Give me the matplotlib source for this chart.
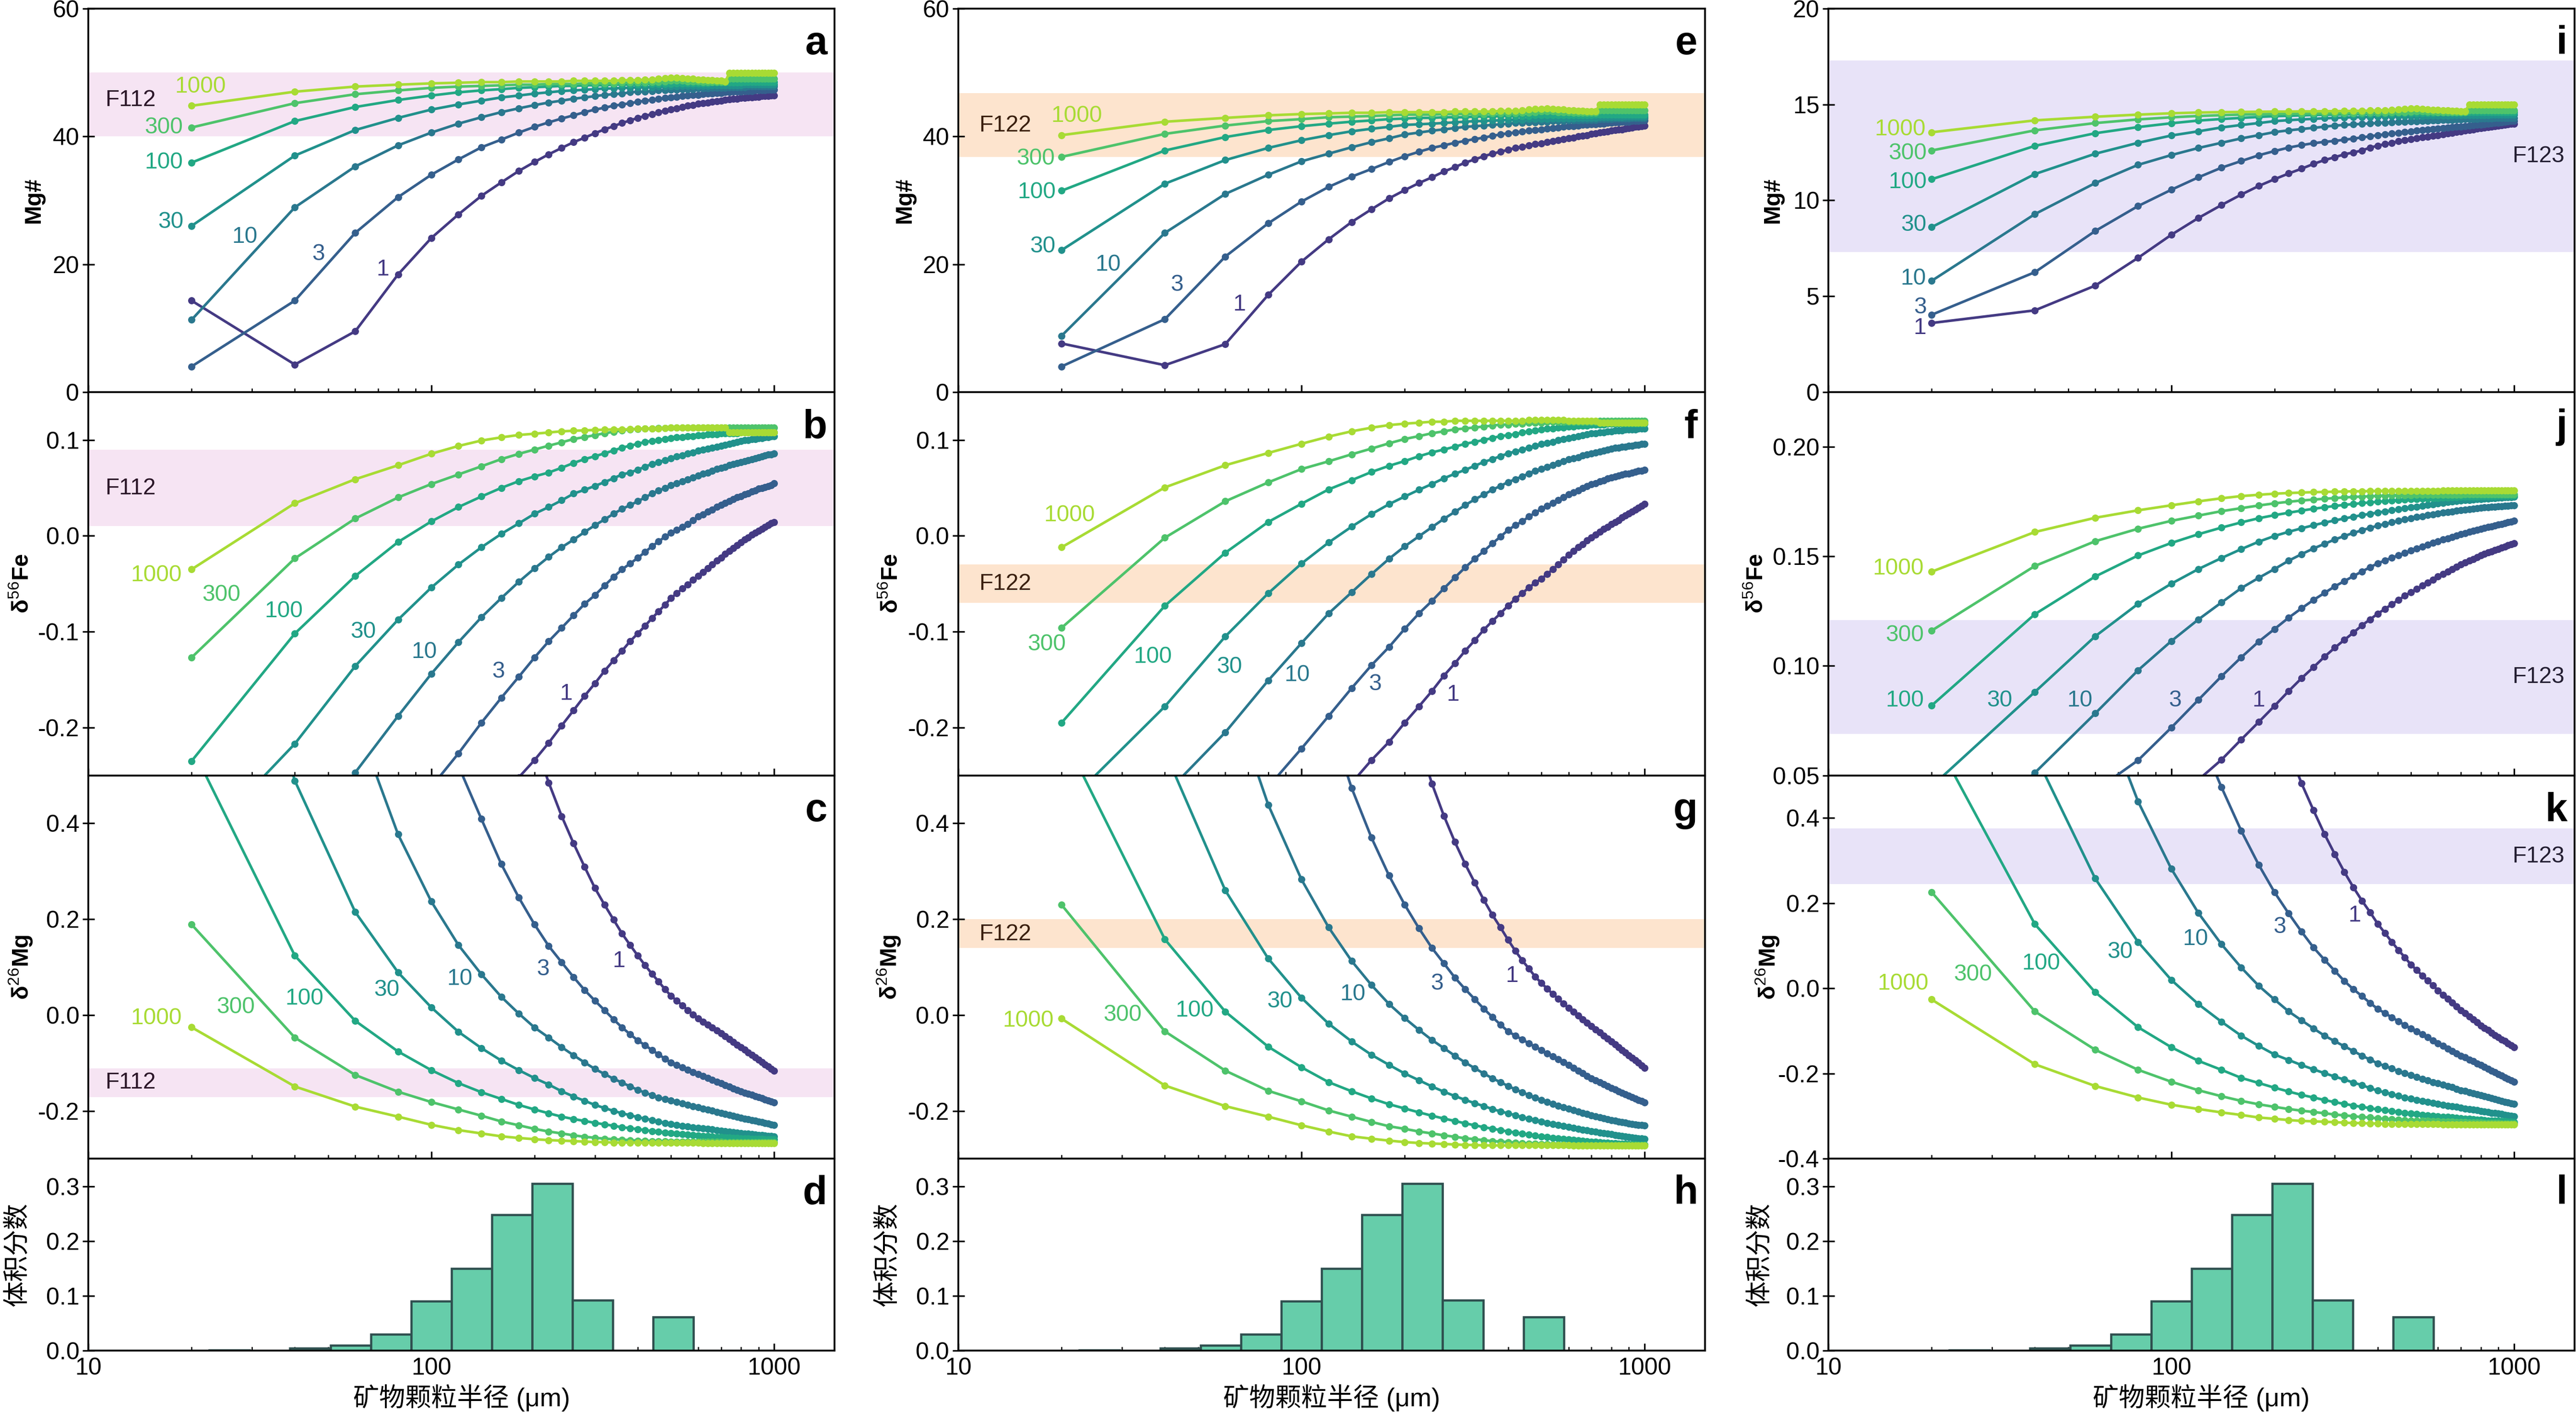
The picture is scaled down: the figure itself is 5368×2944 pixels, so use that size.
import numpy as np
import matplotlib
matplotlib.use("Agg")
import matplotlib.pyplot as plt
from matplotlib.ticker import FixedLocator, FuncFormatter, FormatStrFormatter, LogLocator, NullFormatter

plt.rcParams["font.family"] = ["Liberation Sans", "Noto Sans CJK SC", "DejaVu Sans"]
plt.rcParams["mathtext.fontset"] = "custom"
plt.rcParams["mathtext.rm"] = "Liberation Sans"
plt.rcParams["mathtext.it"] = "Liberation Sans:italic"
plt.rcParams["mathtext.bf"] = "Liberation Sans:bold"

# grain radius of every model point (um)
radius = [20, 40, 60, 80, 100, 120, 140, 160, 180, 200,
          220, 240, 260, 280, 300, 320, 340, 360, 380, 400,
          420, 440, 460, 480, 500, 520, 540, 560, 580, 600,
          620, 640, 660, 680, 700, 720, 740, 760, 780, 800,
          820, 840, 860, 880, 900, 920, 940, 960, 980, 1000]
durations = ["1", "3", "10", "30", "100", "300", "1000"]

# ---- F112 ----
mgno_F112 = [
    [14.3, 4.3, 9.5, 18.4, 24.1, 27.8, 30.7, 32.8, 34.6, 36.0,
     37.2, 38.2, 39.1, 39.8, 40.5, 41.1, 41.6, 42.1, 42.5, 42.9,
     43.2, 43.5, 43.8, 44.0, 44.2, 44.4, 44.6, 44.8, 44.9, 45.1,
     45.2, 45.3, 45.4, 45.5, 45.6, 45.7, 45.8, 45.9, 45.9, 46.0,
     46.0, 46.1, 46.1, 46.2, 46.2, 46.3, 46.3, 46.3, 46.4, 46.4],
    [4.0, 14.3, 24.9, 30.5, 34.0, 36.4, 38.3, 39.5, 40.6, 41.5,
     42.2, 42.8, 43.3, 43.8, 44.2, 44.5, 44.8, 45.0, 45.2, 45.4,
     45.6, 45.7, 45.9, 46.0, 46.1, 46.2, 46.3, 46.4, 46.5, 46.5,
     46.6, 46.7, 46.7, 46.8, 46.8, 46.9, 46.9, 47.0, 47.0, 47.0,
     47.1, 47.1, 47.1, 47.2, 47.2, 47.2, 47.2, 47.3, 47.3, 47.3],
    [11.3, 28.9, 35.3, 38.6, 40.6, 42.0, 43.0, 43.8, 44.4, 44.9,
     45.3, 45.6, 45.9, 46.1, 46.3, 46.5, 46.6, 46.7, 46.9, 47.0,
     47.0, 47.1, 47.2, 47.2, 47.3, 47.3, 47.4, 47.4, 47.4, 47.5,
     47.5, 47.5, 47.6, 47.6, 47.6, 47.6, 47.7, 47.7, 47.7, 47.7,
     47.7, 47.8, 47.8, 47.8, 47.8, 47.8, 47.8, 47.8, 47.8, 47.8],
    [26.0, 37.0, 41.0, 42.9, 44.2, 45.0, 45.6, 46.1, 46.4, 46.7,
     46.9, 47.1, 47.2, 47.3, 47.4, 47.5, 47.5, 47.6, 47.6, 47.7,
     47.7, 47.7, 47.8, 47.8, 47.8, 47.8, 47.9, 47.9, 47.9, 47.9,
     47.9, 47.9, 48.0, 48.0, 48.0, 48.0, 48.0, 48.0, 48.0, 48.0,
     48.1, 48.1, 48.1, 48.1, 48.1, 48.1, 48.1, 48.1, 48.1, 48.1],
    [35.9, 42.4, 44.6, 45.7, 46.4, 46.9, 47.2, 47.4, 47.6, 47.7,
     47.8, 47.9, 47.9, 48.0, 48.0, 48.0, 48.1, 48.1, 48.1, 48.1,
     48.2, 48.2, 48.2, 48.2, 48.2, 48.3, 48.3, 48.3, 48.3, 48.3,
     48.3, 48.3, 48.4, 48.4, 48.4, 48.4, 48.4, 48.4, 48.4, 48.4,
     48.5, 48.5, 48.5, 48.5, 48.5, 48.5, 48.5, 48.5, 48.5, 48.5],
    [41.4, 45.2, 46.6, 47.2, 47.6, 47.8, 47.9, 48.0, 48.1, 48.1,
     48.2, 48.2, 48.2, 48.3, 48.3, 48.3, 48.3, 48.4, 48.4, 48.4,
     48.4, 48.5, 48.5, 48.6, 48.7, 48.7, 48.7, 48.6, 48.6, 48.6,
     48.5, 48.5, 48.5, 48.5, 48.5, 48.5, 49.0, 49.0, 49.0, 49.0,
     49.0, 49.0, 49.0, 49.0, 49.0, 49.0, 49.0, 49.0, 49.0, 49.0],
    [44.8, 47.0, 47.8, 48.1, 48.3, 48.4, 48.5, 48.5, 48.6, 48.6,
     48.6, 48.6, 48.7, 48.7, 48.7, 48.7, 48.7, 48.8, 48.8, 48.8,
     48.9, 48.9, 49.0, 49.1, 49.2, 49.2, 49.1, 49.0, 49.0, 48.9,
     48.9, 48.8, 48.8, 48.7, 48.7, 48.6, 49.9, 49.9, 49.9, 49.9,
     49.9, 49.9, 49.9, 49.9, 49.9, 49.9, 49.9, 49.9, 49.9, 49.9],
]
fe_F112 = [
    [-0.42, -0.40, -0.38, -0.36, -0.34, -0.32, -0.295, -0.272, -0.252, -0.234,
     -0.216, -0.198, -0.182, -0.167, -0.154, -0.141, -0.130, -0.120, -0.110, -0.102,
     -0.094, -0.086, -0.079, -0.072, -0.065, -0.060, -0.055, -0.051, -0.046, -0.042,
     -0.038, -0.034, -0.030, -0.026, -0.023, -0.019, -0.016, -0.013, -0.010, -0.007,
     -0.004, -0.002, 0.001, 0.003, 0.005, 0.007, 0.009, 0.011, 0.013, 0.014],
    [-0.44, -0.39, -0.345, -0.30, -0.262, -0.227, -0.195, -0.169, -0.147, -0.127,
     -0.110, -0.096, -0.083, -0.071, -0.062, -0.052, -0.043, -0.035, -0.029, -0.023,
     -0.017, -0.011, -0.006, -0.001, 0.003, 0.006, 0.009, 0.012, 0.016, 0.020,
     0.022, 0.025, 0.027, 0.030, 0.032, 0.034, 0.036, 0.038, 0.040, 0.041,
     0.043, 0.044, 0.046, 0.047, 0.049, 0.050, 0.051, 0.052, 0.053, 0.055],
    [-0.44, -0.33, -0.247, -0.188, -0.144, -0.111, -0.085, -0.065, -0.048, -0.034,
     -0.022, -0.012, -0.004, 0.004, 0.011, 0.017, 0.023, 0.028, 0.032, 0.036,
     0.040, 0.044, 0.047, 0.050, 0.053, 0.055, 0.057, 0.059, 0.061, 0.063,
     0.065, 0.066, 0.068, 0.070, 0.071, 0.072, 0.074, 0.075, 0.076, 0.077,
     0.078, 0.079, 0.080, 0.081, 0.082, 0.083, 0.084, 0.085, 0.085, 0.086],
    [-0.33, -0.217, -0.136, -0.0875, -0.054, -0.030, -0.012, 0.002, 0.013, 0.023,
     0.030, 0.037, 0.044, 0.048, 0.052, 0.056, 0.060, 0.064, 0.066, 0.069,
     0.072, 0.075, 0.077, 0.079, 0.081, 0.083, 0.084, 0.086, 0.087, 0.089,
     0.090, 0.091, 0.092, 0.093, 0.094, 0.095, 0.096, 0.097, 0.098, 0.099,
     0.100, 0.100, 0.101, 0.101, 0.102, 0.102, 0.103, 0.103, 0.104, 0.104],
    [-0.235, -0.102, -0.042, -0.0065, 0.015, 0.030, 0.041, 0.050, 0.057, 0.062,
     0.066, 0.071, 0.076, 0.080, 0.083, 0.086, 0.089, 0.092, 0.094, 0.096,
     0.098, 0.099, 0.100, 0.101, 0.102, 0.103, 0.103, 0.104, 0.104, 0.105,
     0.105, 0.106, 0.106, 0.106, 0.107, 0.107, 0.107, 0.107, 0.107, 0.108,
     0.108, 0.108, 0.108, 0.108, 0.108, 0.108, 0.108, 0.108, 0.108, 0.108],
    [-0.127, -0.0236, 0.018, 0.040, 0.054, 0.064, 0.0725, 0.080, 0.0855, 0.090,
     0.094, 0.0975, 0.101, 0.103, 0.105, 0.107, 0.1085, 0.110, 0.111, 0.1115,
     0.112, 0.112, 0.1125, 0.1125, 0.113, 0.113, 0.113, 0.113, 0.113, 0.113,
     0.113, 0.113, 0.113, 0.113, 0.113, 0.113, 0.113, 0.113, 0.113, 0.113,
     0.113, 0.113, 0.113, 0.113, 0.113, 0.113, 0.113, 0.113, 0.113, 0.113],
    [-0.035, 0.034, 0.059, 0.0736, 0.0856, 0.0937, 0.0994, 0.1027, 0.1052, 0.1065,
     0.1078, 0.109, 0.1096, 0.110, 0.1104, 0.1107, 0.111, 0.111, 0.1111, 0.1116,
     0.112, 0.112, 0.112, 0.1125, 0.113, 0.113, 0.113, 0.113, 0.113, 0.113,
     0.113, 0.113, 0.113, 0.113, 0.113, 0.113, 0.108, 0.108, 0.108, 0.108,
     0.108, 0.108, 0.108, 0.108, 0.108, 0.108, 0.108, 0.108, 0.108, 0.108],
]
mg_F112 = [
    [2.1, 1.9, 1.7, 1.5, 1.3, 1.1, 0.93, 0.79, 0.67, 0.57,
     0.485, 0.415, 0.358, 0.309, 0.265, 0.230, 0.199, 0.170, 0.146, 0.124,
     0.104, 0.086, 0.070, 0.054, 0.040, 0.030, 0.020, 0.010, 0.001, -0.007,
     -0.014, -0.020, -0.026, -0.032, -0.038, -0.044, -0.050, -0.056, -0.062, -0.067,
     -0.072, -0.078, -0.083, -0.088, -0.093, -0.098, -0.103, -0.107, -0.112, -0.116],
    [1.7, 1.4, 1.15, 0.9, 0.68, 0.52, 0.409, 0.315, 0.245, 0.189,
     0.144, 0.110, 0.079, 0.052, 0.030, 0.010, -0.009, -0.026, -0.040, -0.053,
     -0.063, -0.073, -0.082, -0.091, -0.099, -0.104, -0.109, -0.114, -0.119, -0.123,
     -0.127, -0.131, -0.135, -0.139, -0.142, -0.146, -0.149, -0.153, -0.156, -0.159,
     -0.162, -0.164, -0.166, -0.169, -0.171, -0.173, -0.176, -0.178, -0.180, -0.182],
    [1.5, 1.0, 0.62, 0.377, 0.237, 0.146, 0.085, 0.038, 0.003, -0.026,
     -0.047, -0.067, -0.084, -0.099, -0.1125, -0.123, -0.133, -0.141, -0.149, -0.156,
     -0.162, -0.167, -0.172, -0.175, -0.178, -0.181, -0.184, -0.187, -0.190, -0.192,
     -0.195, -0.197, -0.199, -0.202, -0.204, -0.206, -0.208, -0.210, -0.212, -0.214,
     -0.216, -0.217, -0.219, -0.220, -0.222, -0.223, -0.225, -0.226, -0.228, -0.229],
    [1.2, 0.489, 0.215, 0.089, 0.016, -0.035, -0.069, -0.095, -0.115, -0.1315,
     -0.145, -0.159, -0.170, -0.179, -0.1875, -0.194, -0.200, -0.205, -0.209, -0.213,
     -0.216, -0.219, -0.222, -0.225, -0.227, -0.229, -0.231, -0.232, -0.234, -0.235,
     -0.236, -0.237, -0.238, -0.240, -0.241, -0.242, -0.243, -0.244, -0.245, -0.246,
     -0.247, -0.247, -0.248, -0.249, -0.250, -0.250, -0.251, -0.252, -0.252, -0.253],
    [0.56, 0.124, -0.012, -0.076, -0.115, -0.142, -0.161, -0.175, -0.1875, -0.197,
     -0.205, -0.212, -0.217, -0.221, -0.225, -0.228, -0.231, -0.234, -0.236, -0.238,
     -0.240, -0.242, -0.243, -0.245, -0.246, -0.247, -0.248, -0.249, -0.250, -0.251,
     -0.252, -0.252, -0.253, -0.254, -0.254, -0.255, -0.255, -0.256, -0.256, -0.257,
     -0.257, -0.257, -0.258, -0.258, -0.258, -0.258, -0.259, -0.259, -0.259, -0.259],
    [0.189, -0.047, -0.125, -0.160, -0.1815, -0.197, -0.210, -0.222, -0.230, -0.2375,
     -0.243, -0.247, -0.251, -0.254, -0.256, -0.258, -0.259, -0.260, -0.261, -0.262,
     -0.262, -0.263, -0.263, -0.263, -0.264, -0.264, -0.264, -0.264, -0.264, -0.264,
     -0.264, -0.264, -0.264, -0.264, -0.264, -0.265, -0.265, -0.265, -0.265, -0.265,
     -0.265, -0.265, -0.265, -0.265, -0.265, -0.265, -0.265, -0.265, -0.265, -0.265],
    [-0.0255, -0.149, -0.191, -0.212, -0.229, -0.240, -0.247, -0.253, -0.2565, -0.259,
     -0.261, -0.262, -0.263, -0.264, -0.265, -0.265, -0.266, -0.266, -0.266, -0.266,
     -0.266, -0.266, -0.266, -0.266, -0.266, -0.266, -0.266, -0.266, -0.266, -0.266,
     -0.267, -0.267, -0.267, -0.267, -0.267, -0.267, -0.267, -0.267, -0.267, -0.267,
     -0.267, -0.267, -0.267, -0.267, -0.267, -0.267, -0.267, -0.267, -0.267, -0.267],
]

# ---- F122 ----
mgno_F122 = [
    [7.6, 4.2, 7.5, 15.2, 20.4, 23.9, 26.6, 28.6, 30.3, 31.6,
     32.7, 33.6, 34.5, 35.2, 35.9, 36.4, 36.9, 37.3, 37.6, 37.9,
     38.2, 38.4, 38.6, 38.8, 38.9, 39.1, 39.3, 39.4, 39.6, 39.7,
     39.8, 40.0, 40.1, 40.2, 40.4, 40.5, 40.6, 40.7, 40.8, 40.9,
     41.0, 41.1, 41.1, 41.2, 41.3, 41.4, 41.5, 41.5, 41.6, 41.7],
    [4.0, 11.4, 21.2, 26.4, 29.8, 32.1, 33.7, 34.9, 36.0, 36.9,
     37.6, 38.2, 38.6, 39.0, 39.3, 39.6, 39.8, 40.1, 40.3, 40.5,
     40.6, 40.8, 40.9, 41.0, 41.1, 41.2, 41.3, 41.4, 41.5, 41.6,
     41.6, 41.7, 41.8, 41.8, 41.9, 41.9, 42.0, 42.0, 42.1, 42.1,
     42.2, 42.2, 42.3, 42.3, 42.3, 42.4, 42.4, 42.4, 42.5, 42.5],
    [8.8, 24.9, 31.0, 34.0, 36.1, 37.3, 38.3, 39.1, 39.7, 40.3,
     40.6, 40.9, 41.1, 41.3, 41.5, 41.6, 41.7, 41.8, 41.9, 42.0,
     42.1, 42.1, 42.2, 42.2, 42.3, 42.3, 42.4, 42.4, 42.4, 42.5,
     42.5, 42.5, 42.6, 42.6, 42.6, 42.6, 42.7, 42.7, 42.7, 42.7,
     42.8, 42.8, 42.8, 42.8, 42.8, 42.9, 42.9, 42.9, 42.9, 42.9],
    [22.2, 32.6, 36.3, 38.2, 39.4, 40.2, 40.8, 41.2, 41.5, 41.8,
     41.9, 42.0, 42.1, 42.2, 42.3, 42.4, 42.4, 42.5, 42.5, 42.6,
     42.6, 42.6, 42.7, 42.7, 42.7, 42.7, 42.8, 42.8, 42.8, 42.8,
     42.8, 42.9, 42.9, 42.9, 42.9, 42.9, 43.0, 43.0, 43.0, 43.0,
     43.0, 43.0, 43.0, 43.1, 43.1, 43.1, 43.1, 43.1, 43.1, 43.1],
    [31.5, 37.8, 39.9, 41.0, 41.6, 42.0, 42.3, 42.5, 42.7, 42.8,
     42.9, 42.9, 43.0, 43.0, 43.0, 43.1, 43.1, 43.1, 43.2, 43.2,
     43.2, 43.2, 43.2, 43.3, 43.3, 43.3, 43.3, 43.3, 43.3, 43.3,
     43.3, 43.3, 43.3, 43.3, 43.3, 43.4, 43.4, 43.4, 43.4, 43.4,
     43.4, 43.4, 43.4, 43.4, 43.4, 43.4, 43.4, 43.4, 43.4, 43.4],
    [36.8, 40.4, 41.7, 42.4, 42.7, 43.0, 43.1, 43.2, 43.3, 43.4,
     43.4, 43.4, 43.5, 43.5, 43.5, 43.5, 43.5, 43.6, 43.6, 43.6,
     43.6, 43.7, 43.7, 43.8, 43.9, 43.9, 43.9, 43.8, 43.8, 43.8,
     43.7, 43.7, 43.7, 43.7, 43.7, 43.7, 44.1, 44.1, 44.1, 44.1,
     44.1, 44.1, 44.1, 44.1, 44.1, 44.1, 44.1, 44.1, 44.1, 44.1],
    [40.2, 42.3, 42.9, 43.3, 43.5, 43.6, 43.7, 43.7, 43.8, 43.8,
     43.8, 43.8, 43.8, 43.9, 43.9, 43.9, 43.9, 43.9, 44.0, 44.0,
     44.0, 44.1, 44.2, 44.3, 44.3, 44.4, 44.3, 44.2, 44.2, 44.1,
     44.1, 44.0, 44.0, 43.9, 43.9, 43.9, 45.0, 45.0, 45.0, 45.0,
     45.0, 45.0, 45.0, 45.0, 45.0, 45.0, 45.0, 45.0, 45.0, 45.0],
]
fe_F122 = [
    [-0.44, -0.41, -0.38, -0.35, -0.32, -0.29, -0.258, -0.234, -0.215, -0.195,
     -0.178, -0.162, -0.146, -0.133, -0.120, -0.109, -0.098, -0.089, -0.081, -0.073,
     -0.066, -0.060, -0.054, -0.049, -0.045, -0.040, -0.035, -0.030, -0.025, -0.020,
     -0.016, -0.012, -0.009, -0.005, -0.002, 0.001, 0.004, 0.007, 0.009, 0.012,
     0.014, 0.016, 0.019, 0.021, 0.023, 0.025, 0.027, 0.029, 0.031, 0.033],
    [-0.43, -0.37, -0.31, -0.262, -0.222, -0.188, -0.159, -0.135, -0.116, -0.097,
     -0.081, -0.068, -0.055, -0.0435, -0.033, -0.024, -0.016, -0.008, -0.001, 0.006,
     0.011, 0.015, 0.020, 0.024, 0.028, 0.031, 0.034, 0.037, 0.040, 0.043,
     0.045, 0.047, 0.050, 0.052, 0.054, 0.055, 0.057, 0.058, 0.060, 0.061,
     0.062, 0.063, 0.064, 0.065, 0.065, 0.066, 0.067, 0.068, 0.068, 0.069],
    [-0.40, -0.27, -0.205, -0.151, -0.112, -0.081, -0.059, -0.040, -0.024, -0.011,
     -0.0005, 0.009, 0.0177, 0.025, 0.032, 0.038, 0.043, 0.048, 0.052, 0.056,
     0.059, 0.062, 0.065, 0.068, 0.070, 0.072, 0.074, 0.076, 0.078, 0.080,
     0.081, 0.082, 0.084, 0.085, 0.086, 0.087, 0.088, 0.089, 0.090, 0.091,
     0.092, 0.092, 0.093, 0.093, 0.094, 0.094, 0.095, 0.095, 0.096, 0.096],
    [-0.285, -0.178, -0.105, -0.060, -0.029, -0.007, 0.0095, 0.0226, 0.033, 0.041,
     0.048, 0.054, 0.060, 0.0647, 0.0688, 0.073, 0.077, 0.080, 0.083, 0.086,
     0.088, 0.090, 0.092, 0.094, 0.096, 0.097, 0.098, 0.100, 0.101, 0.102,
     0.103, 0.104, 0.105, 0.106, 0.107, 0.107, 0.108, 0.108, 0.109, 0.109,
     0.110, 0.110, 0.110, 0.111, 0.111, 0.111, 0.111, 0.112, 0.112, 0.112],
    [-0.195, -0.073, -0.0177, 0.0144, 0.0334, 0.0484, 0.058, 0.0666, 0.073, 0.078,
     0.083, 0.087, 0.090, 0.093, 0.096, 0.098, 0.100, 0.102, 0.104, 0.105,
     0.106, 0.108, 0.109, 0.110, 0.111, 0.112, 0.112, 0.113, 0.113, 0.114,
     0.114, 0.115, 0.115, 0.115, 0.116, 0.116, 0.116, 0.116, 0.117, 0.117,
     0.117, 0.117, 0.117, 0.117, 0.117, 0.117, 0.117, 0.117, 0.117, 0.117],
    [-0.096, -0.002, 0.036, 0.0557, 0.0696, 0.0777, 0.085, 0.091, 0.0965, 0.101,
     0.104, 0.107, 0.109, 0.111, 0.112, 0.113, 0.114, 0.115, 0.116, 0.116,
     0.117, 0.117, 0.118, 0.118, 0.118, 0.119, 0.119, 0.119, 0.119, 0.119,
     0.119, 0.119, 0.119, 0.119, 0.119, 0.119, 0.120, 0.120, 0.120, 0.120,
     0.120, 0.120, 0.120, 0.120, 0.120, 0.120, 0.120, 0.120, 0.120, 0.120],
    [-0.012, 0.0505, 0.0736, 0.0864, 0.096, 0.1035, 0.109, 0.1128, 0.1155, 0.117,
     0.118, 0.119, 0.119, 0.120, 0.120, 0.120, 0.120, 0.120, 0.120, 0.120,
     0.120, 0.120, 0.121, 0.121, 0.121, 0.121, 0.121, 0.121, 0.121, 0.120,
     0.120, 0.120, 0.120, 0.120, 0.120, 0.120, 0.118, 0.118, 0.118, 0.118,
     0.118, 0.118, 0.118, 0.118, 0.118, 0.118, 0.118, 0.118, 0.118, 0.118],
]
mg_F122 = [
    [2.2, 2.0, 1.8, 1.6, 1.4, 1.2, 1.05, 0.9, 0.78, 0.67,
     0.57, 0.483, 0.416, 0.361, 0.315, 0.276, 0.240, 0.209, 0.183, 0.157,
     0.134, 0.114, 0.097, 0.080, 0.067, 0.055, 0.044, 0.034, 0.024, 0.015,
     0.007, -0.001, -0.009, -0.016, -0.023, -0.030, -0.036, -0.043, -0.049, -0.055,
     -0.061, -0.067, -0.073, -0.078, -0.084, -0.089, -0.094, -0.099, -0.105, -0.110],
    [1.8, 1.5, 1.2, 0.95, 0.75, 0.62, 0.474, 0.370, 0.291, 0.230,
     0.181, 0.140, 0.108, 0.078, 0.054, 0.033, 0.013, -0.004, -0.020, -0.034,
     -0.043, -0.051, -0.059, -0.066, -0.073, -0.080, -0.086, -0.092, -0.098, -0.104,
     -0.110, -0.116, -0.121, -0.127, -0.132, -0.136, -0.140, -0.144, -0.148, -0.152,
     -0.155, -0.159, -0.162, -0.165, -0.168, -0.171, -0.174, -0.177, -0.179, -0.182],
    [1.6, 1.1, 0.70, 0.439, 0.283, 0.183, 0.113, 0.0625, 0.023, -0.0065,
     -0.031, -0.052, -0.069, -0.085, -0.099, -0.111, -0.122, -0.132, -0.140, -0.148,
     -0.155, -0.161, -0.167, -0.172, -0.177, -0.181, -0.185, -0.189, -0.192, -0.195,
     -0.198, -0.201, -0.204, -0.206, -0.209, -0.211, -0.213, -0.215, -0.217, -0.219,
     -0.220, -0.222, -0.223, -0.224, -0.226, -0.227, -0.228, -0.229, -0.229, -0.230],
    [1.3, 0.55, 0.260, 0.118, 0.036, -0.018, -0.055, -0.083, -0.104, -0.122,
     -0.136, -0.149, -0.160, -0.169, -0.177, -0.184, -0.190, -0.196, -0.201, -0.205,
     -0.209, -0.213, -0.216, -0.219, -0.222, -0.225, -0.227, -0.229, -0.231, -0.233,
     -0.235, -0.237, -0.239, -0.240, -0.242, -0.243, -0.245, -0.246, -0.247, -0.248,
     -0.250, -0.251, -0.252, -0.253, -0.254, -0.255, -0.256, -0.257, -0.257, -0.258],
    [0.59, 0.158, 0.007, -0.066, -0.109, -0.140, -0.159, -0.174, -0.186, -0.195,
     -0.203, -0.210, -0.216, -0.221, -0.226, -0.230, -0.234, -0.237, -0.240, -0.243,
     -0.245, -0.247, -0.249, -0.251, -0.253, -0.254, -0.256, -0.257, -0.258, -0.259,
     -0.260, -0.261, -0.262, -0.263, -0.264, -0.264, -0.265, -0.266, -0.266, -0.267,
     -0.267, -0.268, -0.268, -0.268, -0.269, -0.269, -0.269, -0.270, -0.270, -0.270],
    [0.230, -0.034, -0.116, -0.158, -0.180, -0.199, -0.212, -0.223, -0.232, -0.2375,
     -0.243, -0.247, -0.251, -0.254, -0.257, -0.259, -0.261, -0.263, -0.264, -0.265,
     -0.266, -0.267, -0.268, -0.268, -0.269, -0.269, -0.270, -0.270, -0.270, -0.271,
     -0.271, -0.271, -0.271, -0.271, -0.271, -0.271, -0.271, -0.271, -0.271, -0.271,
     -0.272, -0.272, -0.272, -0.272, -0.272, -0.272, -0.272, -0.272, -0.272, -0.272],
    [-0.0076, -0.147, -0.190, -0.212, -0.230, -0.243, -0.253, -0.258, -0.262, -0.265,
     -0.267, -0.268, -0.269, -0.270, -0.271, -0.271, -0.272, -0.272, -0.272, -0.272,
     -0.272, -0.272, -0.272, -0.272, -0.272, -0.272, -0.272, -0.272, -0.272, -0.272,
     -0.273, -0.273, -0.273, -0.273, -0.273, -0.273, -0.273, -0.273, -0.273, -0.273,
     -0.273, -0.273, -0.273, -0.273, -0.273, -0.273, -0.273, -0.273, -0.273, -0.273],
]

# ---- F123 ----
mgno_F123 = [
    [3.6, 4.26, 5.55, 7.0, 8.2, 9.08, 9.75, 10.3, 10.75, 11.1,
     11.4, 11.65, 11.9, 12.1, 12.25, 12.4, 12.5, 12.6, 12.75, 12.85,
     12.93, 13.0, 13.08, 13.14, 13.2, 13.24, 13.28, 13.32, 13.36, 13.4,
     13.44, 13.48, 13.52, 13.56, 13.6, 13.63, 13.66, 13.7, 13.73, 13.76,
     13.79, 13.82, 13.85, 13.87, 13.9, 13.92, 13.94, 13.96, 13.98, 14.0],
    [4.03, 6.25, 8.4, 9.7, 10.55, 11.2, 11.7, 12.05, 12.35, 12.57,
     12.75, 12.88, 12.98, 13.05, 13.1, 13.16, 13.22, 13.28, 13.34, 13.4,
     13.44, 13.48, 13.52, 13.56, 13.6, 13.63, 13.66, 13.69, 13.72, 13.75,
     13.77, 13.79, 13.81, 13.83, 13.85, 13.87, 13.89, 13.91, 13.93, 13.95,
     13.97, 13.99, 14.01, 14.03, 14.05, 14.07, 14.09, 14.11, 14.13, 14.15],
    [5.8, 9.28, 10.9, 11.85, 12.36, 12.73, 13.0, 13.23, 13.4, 13.56,
     13.65, 13.72, 13.78, 13.84, 13.9, 13.93, 13.96, 13.99, 14.01, 14.03,
     14.05, 14.07, 14.08, 14.1, 14.11, 14.12, 14.14, 14.15, 14.16, 14.17,
     14.18, 14.19, 14.2, 14.21, 14.22, 14.23, 14.24, 14.24, 14.25, 14.26,
     14.26, 14.27, 14.27, 14.28, 14.28, 14.29, 14.29, 14.3, 14.3, 14.3],
    [8.6, 11.37, 12.43, 13.0, 13.38, 13.6, 13.8, 13.93, 14.03, 14.13,
     14.18, 14.22, 14.25, 14.28, 14.3, 14.32, 14.33, 14.34, 14.35, 14.36,
     14.37, 14.38, 14.38, 14.39, 14.39, 14.4, 14.4, 14.41, 14.41, 14.42,
     14.42, 14.42, 14.43, 14.43, 14.43, 14.44, 14.44, 14.44, 14.45, 14.45,
     14.45, 14.45, 14.46, 14.46, 14.46, 14.46, 14.47, 14.47, 14.47, 14.47],
    [11.1, 12.84, 13.5, 13.82, 14.02, 14.16, 14.24, 14.3, 14.35, 14.39,
     14.41, 14.43, 14.45, 14.46, 14.47, 14.48, 14.49, 14.5, 14.5, 14.51,
     14.52, 14.52, 14.53, 14.53, 14.54, 14.54, 14.55, 14.55, 14.55, 14.56,
     14.56, 14.56, 14.57, 14.57, 14.57, 14.58, 14.58, 14.58, 14.58, 14.59,
     14.59, 14.59, 14.59, 14.59, 14.59, 14.6, 14.6, 14.6, 14.6, 14.6],
    [12.6, 13.65, 14.03, 14.22, 14.33, 14.4, 14.44, 14.47, 14.49, 14.5,
     14.51, 14.52, 14.53, 14.54, 14.54, 14.55, 14.55, 14.56, 14.56, 14.57,
     14.57, 14.58, 14.59, 14.6, 14.62, 14.63, 14.63, 14.62, 14.61, 14.6,
     14.6, 14.59, 14.59, 14.58, 14.58, 14.58, 14.7, 14.7, 14.7, 14.7,
     14.7, 14.7, 14.7, 14.7, 14.7, 14.7, 14.7, 14.7, 14.7, 14.7],
    [13.55, 14.17, 14.36, 14.47, 14.54, 14.58, 14.6, 14.61, 14.62, 14.63,
     14.63, 14.64, 14.64, 14.65, 14.65, 14.66, 14.66, 14.67, 14.68, 14.69,
     14.7, 14.72, 14.74, 14.76, 14.78, 14.78, 14.76, 14.74, 14.72, 14.71,
     14.7, 14.68, 14.67, 14.66, 14.65, 14.64, 15.0, 15.0, 15.0, 15.0,
     15.0, 15.0, 15.0, 15.0, 15.0, 15.0, 15.0, 15.0, 15.0, 15.0],
]
fe_F123 = [
    [-0.006, 0.005, 0.016, 0.027, 0.038, 0.048, 0.0571, 0.0664, 0.0744, 0.0817,
     0.0885, 0.0944, 0.0994, 0.1042, 0.1083, 0.1119, 0.1152, 0.1185, 0.1212, 0.1238,
     0.1260, 0.1281, 0.1301, 0.1320, 0.1337, 0.1352, 0.1366, 0.1380, 0.1394, 0.1408,
     0.1420, 0.1431, 0.1442, 0.1452, 0.1462, 0.1471, 0.1480, 0.1488, 0.1496, 0.1504,
     0.1511, 0.1517, 0.1523, 0.1528, 0.1533, 0.1539, 0.1544, 0.1550, 0.1555, 0.1560],
    [0.005, 0.025, 0.043, 0.0569, 0.0718, 0.0845, 0.0952, 0.1039, 0.1111, 0.1168,
     0.1220, 0.1263, 0.1301, 0.1333, 0.1363, 0.1387, 0.1410, 0.1431, 0.1450, 0.1468,
     0.1481, 0.1494, 0.1505, 0.1516, 0.1527, 0.1536, 0.1545, 0.1553, 0.1561, 0.1569,
     0.1576, 0.1582, 0.1589, 0.1595, 0.1601, 0.1606, 0.1611, 0.1616, 0.1620, 0.1625,
     0.1629, 0.1633, 0.1637, 0.1640, 0.1644, 0.1648, 0.1652, 0.1655, 0.1659, 0.1662],
    [0.010, 0.0512, 0.0783, 0.0980, 0.1113, 0.1212, 0.1289, 0.1355, 0.1402, 0.1442,
     0.1480, 0.1510, 0.1536, 0.1557, 0.1577, 0.1593, 0.1607, 0.1619, 0.1630, 0.1640,
     0.1648, 0.1655, 0.1662, 0.1668, 0.1674, 0.1679, 0.1683, 0.1688, 0.1692, 0.1696,
     0.1699, 0.1702, 0.1705, 0.1708, 0.1711, 0.1713, 0.1715, 0.1717, 0.1719, 0.1721,
     0.1723, 0.1724, 0.1726, 0.1727, 0.1728, 0.1729, 0.1730, 0.1731, 0.1732, 0.1733],
    [0.045, 0.0881, 0.1135, 0.1283, 0.1375, 0.1442, 0.1492, 0.1533, 0.1567, 0.1593,
     0.1612, 0.1628, 0.1642, 0.1654, 0.1664, 0.1673, 0.1681, 0.1688, 0.1694, 0.1700,
     0.1705, 0.1710, 0.1714, 0.1719, 0.1724, 0.1727, 0.1731, 0.1734, 0.1738, 0.1742,
     0.1744, 0.1747, 0.1749, 0.1752, 0.1754, 0.1756, 0.1757, 0.1759, 0.1760, 0.1762,
     0.1763, 0.1764, 0.1765, 0.1766, 0.1767, 0.1768, 0.1769, 0.1770, 0.1770, 0.1771],
    [0.0819, 0.1236, 0.1408, 0.1504, 0.1561, 0.1601, 0.1631, 0.1655, 0.1674, 0.1688,
     0.1699, 0.1709, 0.1717, 0.1724, 0.1730, 0.1735, 0.1739, 0.1743, 0.1746, 0.1749,
     0.1752, 0.1754, 0.1756, 0.1758, 0.1760, 0.1761, 0.1763, 0.1764, 0.1765, 0.1766,
     0.1767, 0.1768, 0.1769, 0.1770, 0.1771, 0.1771, 0.1772, 0.1773, 0.1773, 0.1774,
     0.1774, 0.1775, 0.1775, 0.1775, 0.1776, 0.1776, 0.1776, 0.1777, 0.1777, 0.1777],
    [0.1161, 0.1456, 0.1569, 0.1626, 0.1662, 0.1686, 0.1706, 0.1720, 0.1732, 0.1742,
     0.1749, 0.1755, 0.1759, 0.1763, 0.1766, 0.1769, 0.1771, 0.1773, 0.1774, 0.1776,
     0.1777, 0.1778, 0.1778, 0.1779, 0.1779, 0.1780, 0.1780, 0.1780, 0.1781, 0.1781,
     0.1781, 0.1781, 0.1781, 0.1781, 0.1781, 0.1782, 0.1782, 0.1782, 0.1782, 0.1782,
     0.1782, 0.1782, 0.1782, 0.1782, 0.1782, 0.1783, 0.1783, 0.1783, 0.1783, 0.1783],
    [0.1430, 0.1611, 0.1676, 0.1710, 0.1733, 0.1751, 0.1765, 0.1775, 0.1781, 0.1786,
     0.1789, 0.1791, 0.1793, 0.1794, 0.1795, 0.1796, 0.1797, 0.1797, 0.1798, 0.1798,
     0.1799, 0.1799, 0.1799, 0.1799, 0.1799, 0.1799, 0.1799, 0.1799, 0.1799, 0.1799,
     0.1800, 0.1800, 0.1800, 0.1800, 0.1800, 0.1800, 0.1800, 0.1800, 0.1800, 0.1800,
     0.1801, 0.1801, 0.1801, 0.1801, 0.1801, 0.1801, 0.1801, 0.1801, 0.1801, 0.1801],
]
mg_F123 = [
    [2.2, 2.0, 1.8, 1.6, 1.4, 1.2, 1.05, 0.9, 0.78, 0.66,
     0.56, 0.481, 0.418, 0.362, 0.315, 0.273, 0.237, 0.206, 0.179, 0.152,
     0.130, 0.109, 0.090, 0.073, 0.056, 0.043, 0.030, 0.018, 0.007, -0.005,
     -0.015, -0.024, -0.033, -0.042, -0.051, -0.058, -0.066, -0.073, -0.080, -0.087,
     -0.093, -0.098, -0.104, -0.110, -0.115, -0.120, -0.124, -0.129, -0.134, -0.138],
    [1.8, 1.5, 1.2, 0.95, 0.76, 0.60, 0.473, 0.370, 0.290, 0.226,
     0.176, 0.133, 0.096, 0.067, 0.041, 0.017, -0.002, -0.018, -0.034, -0.048,
     -0.058, -0.068, -0.077, -0.086, -0.094, -0.101, -0.108, -0.115, -0.122, -0.129,
     -0.135, -0.141, -0.147, -0.153, -0.158, -0.162, -0.167, -0.171, -0.176, -0.180,
     -0.184, -0.189, -0.193, -0.197, -0.201, -0.205, -0.209, -0.212, -0.216, -0.219],
    [1.6, 1.1, 0.70, 0.439, 0.281, 0.177, 0.104, 0.049, 0.006, -0.026,
     -0.054, -0.075, -0.094, -0.111, -0.124, -0.136, -0.147, -0.158, -0.167, -0.176,
     -0.182, -0.188, -0.194, -0.199, -0.204, -0.208, -0.212, -0.216, -0.220, -0.223,
     -0.226, -0.229, -0.232, -0.236, -0.239, -0.241, -0.244, -0.246, -0.249, -0.251,
     -0.253, -0.255, -0.258, -0.260, -0.262, -0.264, -0.266, -0.268, -0.270, -0.271],
    [1.3, 0.55, 0.258, 0.109, 0.020, -0.037, -0.078, -0.111, -0.135, -0.155,
     -0.168, -0.180, -0.190, -0.199, -0.207, -0.214, -0.221, -0.227, -0.234, -0.240,
     -0.244, -0.248, -0.252, -0.256, -0.259, -0.262, -0.264, -0.267, -0.269, -0.271,
     -0.273, -0.275, -0.277, -0.278, -0.280, -0.282, -0.283, -0.285, -0.286, -0.288,
     -0.289, -0.290, -0.292, -0.293, -0.294, -0.295, -0.297, -0.298, -0.299, -0.300],
    [0.60, 0.151, -0.009, -0.091, -0.138, -0.170, -0.191, -0.210, -0.222, -0.233,
     -0.242, -0.250, -0.256, -0.262, -0.267, -0.271, -0.275, -0.278, -0.281, -0.284,
     -0.286, -0.288, -0.290, -0.292, -0.294, -0.295, -0.297, -0.298, -0.299, -0.300,
     -0.301, -0.302, -0.303, -0.304, -0.305, -0.306, -0.306, -0.307, -0.308, -0.308,
     -0.309, -0.310, -0.310, -0.311, -0.311, -0.312, -0.312, -0.313, -0.313, -0.314],
    [0.226, -0.054, -0.144, -0.191, -0.219, -0.239, -0.253, -0.264, -0.272, -0.278,
     -0.283, -0.287, -0.290, -0.293, -0.296, -0.298, -0.300, -0.302, -0.303, -0.305,
     -0.306, -0.307, -0.308, -0.309, -0.310, -0.310, -0.311, -0.311, -0.312, -0.312,
     -0.313, -0.313, -0.313, -0.314, -0.314, -0.314, -0.315, -0.315, -0.315, -0.315,
     -0.316, -0.316, -0.316, -0.316, -0.316, -0.317, -0.317, -0.317, -0.317, -0.317],
    [-0.026, -0.178, -0.229, -0.256, -0.273, -0.283, -0.291, -0.297, -0.303, -0.306,
     -0.309, -0.311, -0.312, -0.313, -0.314, -0.315, -0.316, -0.316, -0.317, -0.317,
     -0.318, -0.318, -0.318, -0.318, -0.318, -0.318, -0.318, -0.318, -0.318, -0.318,
     -0.319, -0.319, -0.319, -0.319, -0.319, -0.319, -0.319, -0.319, -0.319, -0.319,
     -0.320, -0.320, -0.320, -0.320, -0.320, -0.320, -0.320, -0.320, -0.320, -0.320],
]

# grain size distribution (volume fraction per log bin, 10-1000 um, 17 bins)
vol_frac = [0, 0, 0, 0.001, 0, 0.004, 0.0095, 0.030, 0.0905, 0.150,
            0.248, 0.305, 0.0915, 0, 0.0615, 0, 0]
hist_edges = np.logspace(1, 3, len(vol_frac) + 1)

# measured band of each sample (min, max)
bands_F112 = [(40, 50), (0.01, 0.09), (-0.171, -0.111)]
bands_F122 = [(36.8, 46.8), (-0.070, -0.030), (0.14, 0.20)]
bands_F123 = [(7.3, 17.3), (0.069, 0.121), (0.245, 0.376)]

colors = plt.cm.viridis([0.17, 0.30, 0.40, 0.50, 0.60, 0.72, 0.87])

columns = [
    dict(name="F112", left=0.0343, right=0.3240, data=[mgno_F112, fe_F112, mg_F112], bands=bands_F112,
         band_color="#f6e4f3", name_color="#2b1628", name_x=11.2, name_ha="left",
         name_y=[45.7, 0.0497, -0.1408], letters="abcd",
         ylims=[(0, 60), (-0.25, 0.15), (-0.3, 0.5)],
         yticks=[[0, 20, 40, 60], [-0.2, -0.1, 0.0, 0.1], [-0.2, 0.0, 0.2, 0.4]],
         yfmt=["%d", "%.1f", "%.1f"], ylab_x=[-0.059, -0.074, -0.073, -0.078],
         labels=[[(72.3, 19.2), (46.8, 21.6), (28.6, 24.3), (17.4, 26.6), (16.6, 35.9), (16.6, 41.4), (21.2, 47.8)],
                 [(247.6, -0.165), (156.7, -0.1418), (95.3, -0.1215), (63.3, -0.1003), (37.1, -0.0788), (24.4, -0.0617), (15.8, -0.0413)],
                 [(352, 0.113), (212, 0.0957), (121, 0.076), (74.1, 0.052), (42.6, 0.0342), (26.9, 0.0163), (15.8, -0.0065)]]),
    dict(name="F122", left=0.3720, right=0.6619, data=[mgno_F122, fe_F122, mg_F122], bands=bands_F122,
         band_color="#fde4ce", name_color="#3b200f", name_x=11.5, name_ha="left",
         name_y=[41.7, -0.0503, 0.1685], letters="efgh",
         ylims=[(0, 60), (-0.25, 0.15), (-0.3, 0.5)],
         yticks=[[0, 20, 40, 60], [-0.2, -0.1, 0.0, 0.1], [-0.2, 0.0, 0.2, 0.4]],
         yfmt=["%d", "%.1f", "%.1f"], ylab_x=[-0.057, -0.075, -0.075, -0.078],
         labels=[[(65.9, 13.7), (43.4, 16.8), (27.3, 19.9), (17.6, 22.8), (16.9, 31.3), (16.8, 36.5), (22.1, 43.2)],
                 [(276, -0.1658), (164, -0.155), (97.1, -0.1454), (61.6, -0.137), (36.9, -0.1264), (18.1, -0.1133), (21.1, 0.0217)],
                 [(410, 0.082), (248, 0.065), (141, 0.0435), (86.6, 0.0288), (48.8, 0.0098), (30.1, 0.0), (16.0, -0.012)]]),
    dict(name="F123", left=0.7098, right=0.9994, data=[mgno_F123, fe_F123, mg_F123], bands=bands_F123,
         band_color="#e8e3f8", name_color="#241f33", name_x=1405, name_ha="right",
         name_y=[12.31, 0.095, 0.310], letters="ijkl",
         ylims=[(0, 20), (0.05, 0.225), (-0.4, 0.5)],
         yticks=[[0, 5, 10, 15, 20], [0.05, 0.10, 0.15, 0.20], [-0.4, -0.2, 0.0, 0.2, 0.4]],
         yfmt=["%d", "%.2f", "%.1f"], ylab_x=[-0.060, -0.082, -0.064, -0.075],
         labels=[[(18.5, 3.33), (18.5, 4.42), (17.7, 5.92), (17.7, 8.71), (17.0, 10.95), (17.0, 12.45), (16.2, 13.71)],
                 [(180, 0.0843), (102.6, 0.0843), (54.1, 0.0843), (31.6, 0.0843), (16.7, 0.0843), (16.7, 0.114), (16.0, 0.1444)],
                 [(343, 0.171), (207, 0.144), (117.6, 0.116), (70.9, 0.085), (41.7, 0.058), (26.4, 0.033), (16.5, 0.0116)]]),
]

ylabels = ["Mg#", "δ$^{56}$Fe", "δ$^{26}$Mg", "体积分数"]

fig = plt.figure(figsize=(5368 / 300, 2944 / 300), dpi=300)


def style_axis(ax, show_x):
    ax.set_xscale("log")
    ax.set_xlim(10, 1500)
    ax.xaxis.set_major_locator(LogLocator(base=10))
    ax.xaxis.set_minor_locator(LogLocator(base=10, subs=np.arange(2, 10)))
    ax.xaxis.set_major_formatter(FuncFormatter(lambda v, p: "%g" % v))
    ax.xaxis.set_minor_formatter(NullFormatter())
    ax.tick_params(axis="x", which="major", direction="in", length=3.5, width=0.8,
                   labelsize=12, labelbottom=show_x, pad=3.5)
    ax.tick_params(axis="x", which="minor", direction="in", length=2, width=0.6)
    ax.tick_params(axis="y", which="major", direction="inout", length=6, width=0.8,
                   labelsize=12, pad=1.5)
    for sp in ax.spines.values():
        sp.set_linewidth(0.9)


for col in columns:
    gs = fig.add_gridspec(4, 1, left=col["left"], right=col["right"], top=0.9939, bottom=0.0442,
                          height_ratios=[2, 2, 2, 1], hspace=0)
    axes = [fig.add_subplot(gs[i]) for i in range(4)]

    for i in range(3):
        ax = axes[i]
        lo, hi = col["bands"][i]
        ax.axhspan(lo, hi, color=col["band_color"], lw=0, zorder=0)
        for series, c in zip(col["data"][i], colors):
            ax.plot(radius, series, "-o", color=c, lw=1.3, ms=3.6, mew=0, zorder=2)
        for lab, (lx, ly), c in zip(durations, col["labels"][i], colors):
            ax.text(lx, ly, lab, color=c, fontsize=11.5, ha="center", va="center", zorder=3)
        ax.text(col["name_x"], col["name_y"][i], col["name"], color=col["name_color"],
                fontsize=11.5, ha=col["name_ha"], va="center", zorder=3)
        style_axis(ax, False)
        ax.set_ylim(*col["ylims"][i])
        ax.yaxis.set_major_locator(FixedLocator(col["yticks"][i]))
        ax.yaxis.set_major_formatter(FormatStrFormatter(col["yfmt"][i]))
        ax.set_ylabel(ylabels[i], fontsize=11.5, fontweight="bold")
        ax.yaxis.set_label_coords(col["ylab_x"][i], 0.5)
        ax.text(0.99, 0.957, col["letters"][i], transform=ax.transAxes, ha="right", va="top",
                fontsize=20, fontweight="bold")

    ax = axes[3]
    ax.bar(hist_edges[:-1], vol_frac, width=np.diff(hist_edges), align="edge",
           color="#66cdaa", edgecolor="#2f4f4f", linewidth=1.1, zorder=2)
    style_axis(ax, True)
    ax.set_ylim(0, 0.35)
    ax.yaxis.set_major_locator(FixedLocator([0.0, 0.1, 0.2, 0.3]))
    ax.yaxis.set_major_formatter(FormatStrFormatter("%.1f"))
    ax.set_ylabel(ylabels[3], fontsize=13)
    ax.yaxis.set_label_coords(col["ylab_x"][3], 0.5)
    ax.set_xlabel("矿物颗粒半径 (μm)", fontsize=13)
    ax.xaxis.set_label_coords(0.5, -0.175)
    ax.text(0.99, 0.918, col["letters"][3], transform=ax.transAxes, ha="right", va="top",
            fontsize=20, fontweight="bold")

fig.savefig("out.png", dpi=300)
